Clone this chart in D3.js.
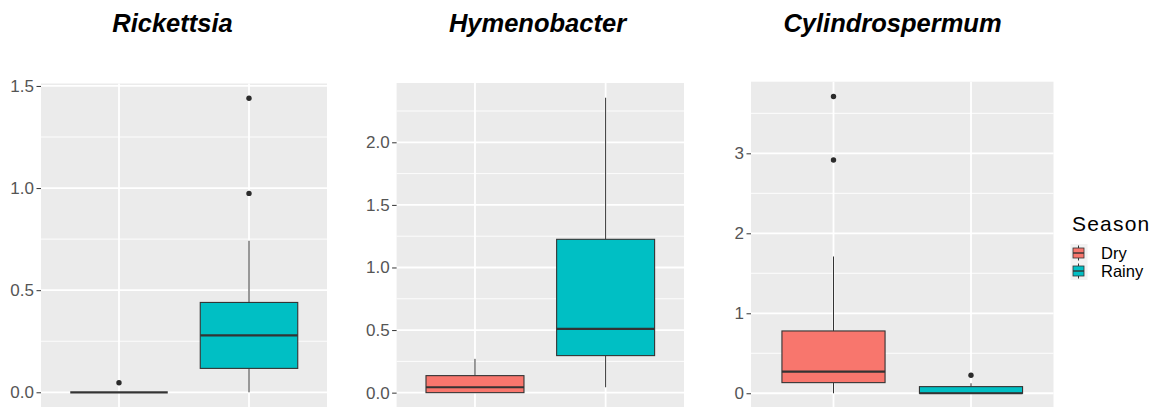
<!DOCTYPE html>
<html>
<head>
<meta charset="utf-8">
<script src="https://cdn.jsdelivr.net/npm/d3@7"></script>
<style>
  html, body { margin: 0; padding: 0; background: #ffffff; }
  svg { display: block; }
</style>
</head>
<body>
<svg id="chart" width="1157" height="407"></svg>
<script>
// ---------- data ----------
const genera = ["Rickettsia", "Hymenobacter", "Cylindrospermum"];
const seasons = ["Dry", "Rainy"];
const seasonColors = ["#F8766D", "#00BFC4"];

// box stats per season: [lower whisker, q1, median, q3, upper whisker]
const rickettsiaStats = [[0, 0, 0, 0, 0], [0, 0.117, 0.279, 0.44, 0.742]];
const rickettsiaOutliers = [[0.047], [0.974, 1.44]];
const hymenobacterStats = [[0, 0, 0.043, 0.136, 0.27], [0.043, 0.296, 0.509, 1.225, 2.356]];
const hymenobacterOutliers = [[], []];
const cylindrospermumStats = [[0, 0.133, 0.27, 0.779, 1.71], [0, 0, 0, 0.083, 0.125]];
const cylindrospermumOutliers = [[2.916, 3.71], [0.225]];

const rickettsiaTicks = [0, 0.5, 1.0, 1.5];
const rickettsiaTickLabels = ["0.0", "0.5", "1.0", "1.5"];
const hymenobacterTicks = [0, 0.5, 1.0, 1.5, 2.0];
const hymenobacterTickLabels = ["0.0", "0.5", "1.0", "1.5", "2.0"];
const cylindrospermumTicks = [0, 1, 2, 3];
const cylindrospermumTickLabels = ["0", "1", "2", "3"];

const panelData = [
  { stats: rickettsiaStats, outliers: rickettsiaOutliers, ticks: rickettsiaTicks, labels: rickettsiaTickLabels },
  { stats: hymenobacterStats, outliers: hymenobacterOutliers, ticks: hymenobacterTicks, labels: hymenobacterTickLabels },
  { stats: cylindrospermumStats, outliers: cylindrospermumOutliers, ticks: cylindrospermumTicks, labels: cylindrospermumTickLabels }
];

// ---------- layout ----------
const panelLayout = [
  { x0: 41, x1: 327, top: 83.5, bottom: 407, titleX: 172.5 },
  { x0: 396.6, x1: 684, top: 83, bottom: 407.4, titleX: 537.5 },
  { x0: 751, x1: 1053.5, top: 81.7, bottom: 408.1, titleX: 892.5 }
];

const svg = d3.select("#chart");
svg.append("rect").attr("width", 1157).attr("height", 407).attr("fill", "#ffffff");

const FONT = "'Liberation Sans', Arial, Helvetica, sans-serif";

panelData.forEach((pd, i) => {
  const L = panelLayout[i];
  const allVals = pd.stats.flat().concat(pd.outliers.flat());
  const lo = d3.min(allVals), hi = d3.max(allVals);
  const pad = (hi - lo) * 0.05;
  const y = d3.scaleLinear().domain([lo - pad, hi + pad]).range([L.bottom, L.top]);
  // discrete positions 1 and 2 within limits [0.4, 2.6]
  const xPos = d3.scalePoint().domain(seasons).range([L.x0, L.x1]).padding(0.6);
  const unit = xPos.step();
  const boxW = 0.75 * unit;

  const g = svg.append("g");
  g.append("rect").attr("x", L.x0).attr("y", L.top).attr("width", L.x1 - L.x0)
    .attr("height", L.bottom - L.top).attr("fill", "#EBEBEB");

  // minor gridlines
  const step = pd.ticks[1] - pd.ticks[0];
  const minor = [];
  for (let k = 0; k < pd.ticks.length + 1; k++) {
    const v = pd.ticks[0] + step * (k + 0.5);
    if (y(v) > L.top && y(v) < L.bottom) minor.push(v);
  }
  g.selectAll(".minor").data(minor).join("line")
    .attr("x1", L.x0).attr("x2", L.x1)
    .attr("y1", d => y(d)).attr("y2", d => y(d))
    .attr("stroke", "#ffffff").attr("stroke-width", 0.9);
  g.selectAll(".major").data(pd.ticks).join("line")
    .attr("x1", L.x0).attr("x2", L.x1)
    .attr("y1", d => y(d)).attr("y2", d => y(d))
    .attr("stroke", "#ffffff").attr("stroke-width", 1.8);
  g.selectAll(".vmajor").data(seasons).join("line")
    .attr("x1", d => xPos(d)).attr("x2", d => xPos(d))
    .attr("y1", L.top).attr("y2", L.bottom)
    .attr("stroke", "#ffffff").attr("stroke-width", 1.8);

  // y axis
  const axis = d3.axisLeft(y).tickValues(pd.ticks)
    .tickFormat((d, j) => pd.labels[j]).tickSize(4.5).tickPadding(2.5);
  const ag = svg.append("g").attr("transform", `translate(${L.x0},0)`).call(axis);
  ag.attr("font-size", null).attr("font-family", null);
  ag.select(".domain").remove();
  ag.selectAll(".tick line").attr("stroke", "#333333").attr("stroke-width", 1);
  ag.selectAll(".tick text").attr("fill", "#555555")
    .style("font-size", "17px").style("font-family", FONT);

  // boxes
  seasons.forEach((s, j) => {
    const [lw, q1, med, q3, uw] = pd.stats[j];
    const cx = xPos(s);
    const bg = svg.append("g");
    bg.append("line").attr("x1", cx).attr("x2", cx).attr("y1", y(q3)).attr("y2", y(uw))
      .attr("stroke", "#333333").attr("stroke-width", 1);
    bg.append("line").attr("x1", cx).attr("x2", cx).attr("y1", y(q1)).attr("y2", y(lw))
      .attr("stroke", "#333333").attr("stroke-width", 1);
    bg.append("rect").attr("x", cx - boxW / 2).attr("width", boxW)
      .attr("y", y(q3)).attr("height", Math.max(0, y(q1) - y(q3)))
      .attr("fill", seasonColors[j]).attr("stroke", "#333333").attr("stroke-width", 1.1);
    bg.append("line").attr("x1", cx - boxW / 2).attr("x2", cx + boxW / 2)
      .attr("y1", y(med)).attr("y2", y(med))
      .attr("stroke", "#333333").attr("stroke-width", 2.2);
    bg.selectAll("circle").data(pd.outliers[j]).join("circle")
      .attr("cx", cx).attr("cy", d => y(d)).attr("r", 2.7).attr("fill", "#2b2b2b");
  });

  svg.append("text").attr("x", L.titleX).attr("y", 32).attr("text-anchor", "middle")
    .attr("font-family", FONT).attr("font-weight", "bold").attr("font-style", "italic")
    .attr("font-size", "25.5px").attr("fill", "#000000").text(genera[i]);
});

// ---------- legend ----------
const leg = svg.append("g");
leg.append("text").attr("x", 1072).attr("y", 231).attr("font-family", FONT)
  .attr("font-size", "21px").attr("fill", "#000000").attr("letter-spacing", "1.2px").text("Season");
const keyY = d3.scalePoint().domain(seasons).range([253, 271]);
seasons.forEach((s, j) => {
  const cy = keyY(s);
  const cx = 1078.5;
  leg.append("rect").attr("x", cx - 8).attr("y", cy - 9).attr("width", 17).attr("height", 18).attr("fill", "#F2F2F2");
  leg.append("line").attr("x1", cx).attr("x2", cx).attr("y1", cy - 7.5).attr("y2", cy + 7.5)
    .attr("stroke", "#333333").attr("stroke-width", 1);
  leg.append("rect").attr("x", cx - 5.5).attr("y", cy - 5).attr("width", 11).attr("height", 10)
    .attr("fill", seasonColors[j]).attr("stroke", "#333333").attr("stroke-width", 0.8);
  leg.append("line").attr("x1", cx - 5.5).attr("x2", cx + 5.5).attr("y1", cy).attr("y2", cy)
    .attr("stroke", "#333333").attr("stroke-width", 1.4);
  leg.append("text").attr("x", 1101).attr("y", cy + 6).attr("font-family", FONT)
    .attr("font-size", "16.5px").attr("fill", "#000000").text(s);
});
</script>
</body>
</html>
